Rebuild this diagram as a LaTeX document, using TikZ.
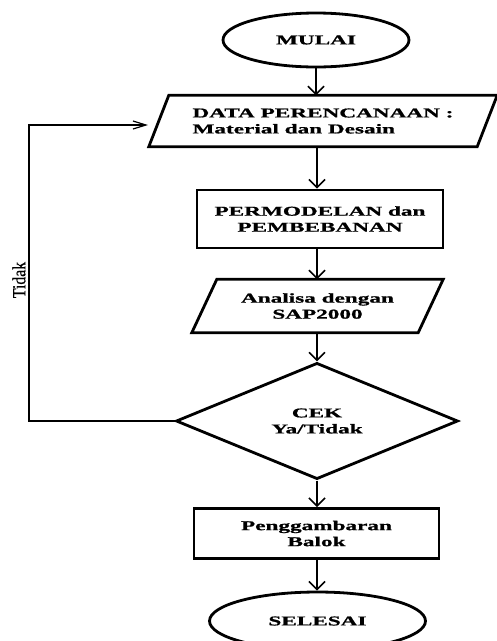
\documentclass[tikz,border=0pt]{standalone}
\usepackage{fontspec}
\setmainfont{Liberation Serif}
\newfontfamily\boxfont{Liberation Serif}[FakeStretch=1.72,FakeBold=1]
\newfontfamily\sidefont{Liberation Serif}[FakeStretch=0.85,FakeBold=0.6]
\usetikzlibrary{shapes.geometric,arrows.meta}
\begin{document}
\begin{tikzpicture}[x=1pt,y=-1pt,
  txt/.style={font=\boxfont\bfseries\fontsize{13.5}{16}\selectfont, align=center, inner sep=0pt},
  shapeline/.style={draw, line width=2.8pt},
  term/.style={txt, shapeline, ellipse},
  procbox/.style={txt, shapeline, rectangle},
  iobox/.style={txt, rectangle},
  decbox/.style={txt, shapeline, diamond},
  arr/.style={line width=1.6pt, -{Straight Barb[length=8pt,width=16pt,line width=1.6pt]}},
  fbline/.style={line width=1.2pt, -{Straight Barb[length=13pt,width=8pt,line width=1.2pt]}},
  sidelabel/.style={font=\sidefont\fontsize{18.5}{20}\selectfont, rotate=90, inner sep=0pt},
]
\useasboundingbox (0,0) rectangle (497,641);

\node[term, minimum width=186pt, minimum height=54pt] (mulai) at (316,40) {MULAI};

\node[iobox, align=left, minimum width=348pt, minimum height=51pt] (data) at (323,121) {DATA PERENCANAAN :\\Material dan Desain};
\draw[shapeline] ([xshift=20pt]data.north west) -- (data.north east) -- ([xshift=-20pt]data.south east) -- (data.south west) -- cycle;

\node[procbox, minimum width=246pt, minimum height=58pt] (model) at (320,219) {PERMODELAN dan\\PEMBEBANAN};

\node[iobox, minimum width=251pt, minimum height=53pt] (analisa) at (317.5,306) {Analisa dengan\\SAP2000};
\draw[shapeline] ([xshift=25pt]analisa.north west) -- (analisa.north east) -- ([xshift=-25pt]analisa.south east) -- (analisa.south west) -- cycle;

\node[decbox, minimum width=282pt, minimum height=114pt] (cek) at (317,421) {CEK\\Ya/Tidak};

\node[procbox, minimum width=245pt, minimum height=50pt] (gambar) at (316.5,533.5) {Penggambaran\\Balok};

\node[term, minimum width=216pt, minimum height=58pt] (selesai) at (317.5,621) {SELESAI};

\node[sidelabel] (tidak) at (19,280) {Tidak};

\draw[arr] (mulai.south) -- (mulai.south |- data.north);
\draw[arr] (cek.north |- data.south) -- (cek.north |- model.north);
\draw[arr] (cek.north |- model.south) -- (cek.north |- analisa.north);
\draw[arr] (cek.north |- analisa.south) -- (cek.north);
\draw[arr] (cek.south) -- (cek.south |- gambar.north);
\draw[arr] (cek.south |- gambar.south) -- (cek.south |- selesai.north);

\coordinate (fbA) at (29,421);
\coordinate (fbB) at (29,125);
\coordinate (fbC) at (148,125);
\draw[fbline] (cek.west) -- (fbA) -- (fbB) -- (fbC);
\end{tikzpicture}
\end{document}
